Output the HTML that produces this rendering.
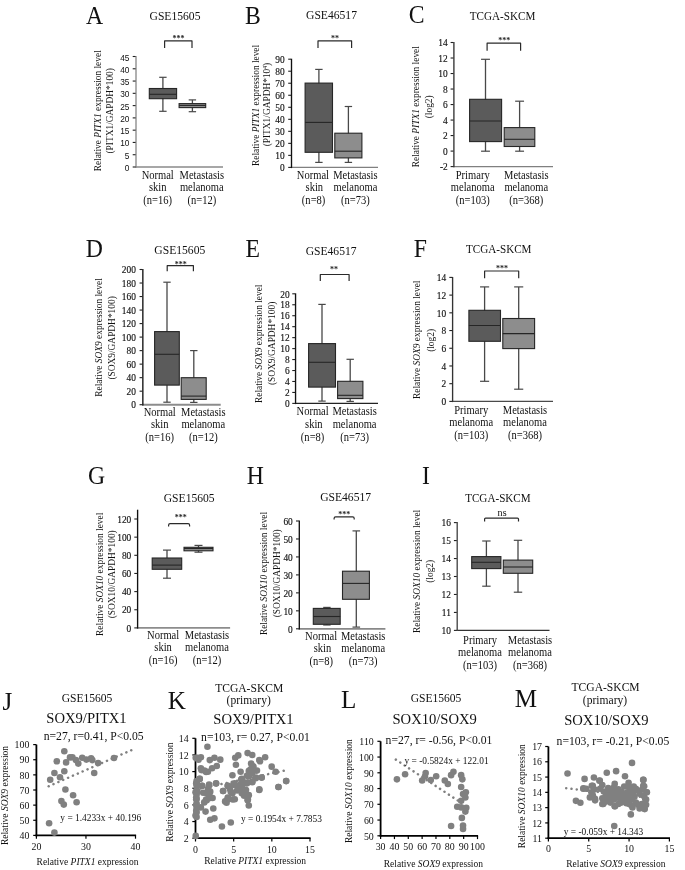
<!DOCTYPE html>
<html><head><meta charset="utf-8"><title>Figure</title>
<style>html,body{margin:0;padding:0;background:#fff}svg{display:block;filter:grayscale(1)}</style>
</head><body>
<svg width="685" height="870" viewBox="0 0 685 870" font-family="'Liberation Serif',serif" fill="#111">
<rect width="685" height="870" fill="#fff"/>
<text transform="translate(94.5 23.8) scale(0.95 1)" font-size="25" text-anchor="middle">A</text>
<text transform="translate(175 19.6) scale(0.9 1)" font-size="12.9" text-anchor="middle">GSE15605</text>
<line x1="162.9" y1="77.3" x2="162.9" y2="111.3" stroke="#484848" stroke-width="1.3"/>
<line x1="159.2" y1="77.3" x2="166.6" y2="77.3" stroke="#484848" stroke-width="1.2"/>
<line x1="159.2" y1="111.3" x2="166.6" y2="111.3" stroke="#484848" stroke-width="1.2"/>
<rect x="149.3" y="88.5" width="27.3" height="10.2" fill="#5b5b5b" stroke="#262626" stroke-width="1.1"/>
<line x1="149.3" y1="94.3" x2="176.6" y2="94.3" stroke="#262626" stroke-width="1.1"/>
<line x1="192.4" y1="99.9" x2="192.4" y2="111.7" stroke="#484848" stroke-width="1.3"/>
<line x1="188.7" y1="99.9" x2="196.1" y2="99.9" stroke="#484848" stroke-width="1.2"/>
<line x1="188.7" y1="111.7" x2="196.1" y2="111.7" stroke="#484848" stroke-width="1.2"/>
<rect x="179.1" y="103.6" width="26.6" height="4" fill="#8d8d8d" stroke="#262626" stroke-width="1.1"/>
<line x1="179.1" y1="105.4" x2="205.7" y2="105.4" stroke="#262626" stroke-width="1.1"/>
<line x1="135.35" y1="167" x2="223" y2="167" stroke="#8a8a8a" stroke-width="1.4"/>
<line x1="136" y1="56" x2="136" y2="167.7" stroke="#8a8a8a" stroke-width="1.35"/>
<line x1="132.7" y1="167" x2="135.6" y2="167" stroke="#222" stroke-width="1.1"/>
<text transform="translate(129.5 171) scale(0.85 1)" font-size="9.8" text-anchor="end" font-family="'Liberation Sans',sans-serif">0</text>
<line x1="132.7" y1="154.72" x2="135.6" y2="154.72" stroke="#222" stroke-width="1.1"/>
<text transform="translate(129.5 158.72) scale(0.85 1)" font-size="9.8" text-anchor="end" font-family="'Liberation Sans',sans-serif">5</text>
<line x1="132.7" y1="142.44" x2="135.6" y2="142.44" stroke="#222" stroke-width="1.1"/>
<text transform="translate(129.5 146.44) scale(0.85 1)" font-size="9.8" text-anchor="end" font-family="'Liberation Sans',sans-serif">10</text>
<line x1="132.7" y1="130.17" x2="135.6" y2="130.17" stroke="#222" stroke-width="1.1"/>
<text transform="translate(129.5 134.17) scale(0.85 1)" font-size="9.8" text-anchor="end" font-family="'Liberation Sans',sans-serif">15</text>
<line x1="132.7" y1="117.89" x2="135.6" y2="117.89" stroke="#222" stroke-width="1.1"/>
<text transform="translate(129.5 121.89) scale(0.85 1)" font-size="9.8" text-anchor="end" font-family="'Liberation Sans',sans-serif">20</text>
<line x1="132.7" y1="105.61" x2="135.6" y2="105.61" stroke="#222" stroke-width="1.1"/>
<text transform="translate(129.5 109.61) scale(0.85 1)" font-size="9.8" text-anchor="end" font-family="'Liberation Sans',sans-serif">25</text>
<line x1="132.7" y1="93.33" x2="135.6" y2="93.33" stroke="#222" stroke-width="1.1"/>
<text transform="translate(129.5 97.33) scale(0.85 1)" font-size="9.8" text-anchor="end" font-family="'Liberation Sans',sans-serif">30</text>
<line x1="132.7" y1="81.06" x2="135.6" y2="81.06" stroke="#222" stroke-width="1.1"/>
<text transform="translate(129.5 85.06) scale(0.85 1)" font-size="9.8" text-anchor="end" font-family="'Liberation Sans',sans-serif">35</text>
<line x1="132.7" y1="68.78" x2="135.6" y2="68.78" stroke="#222" stroke-width="1.1"/>
<text transform="translate(129.5 72.78) scale(0.85 1)" font-size="9.8" text-anchor="end" font-family="'Liberation Sans',sans-serif">40</text>
<line x1="132.7" y1="56.5" x2="135.6" y2="56.5" stroke="#222" stroke-width="1.1"/>
<text transform="translate(129.5 60.5) scale(0.85 1)" font-size="9.8" text-anchor="end" font-family="'Liberation Sans',sans-serif">45</text>
<text transform="translate(100.6 110.8) rotate(-90)" font-size="9.4" text-anchor="middle">Relative <tspan font-style="italic">PITX1</tspan> expression level</text>
<text transform="translate(112.8 110.8) rotate(-90)" font-size="9.4" text-anchor="middle">(PITX1/GAPDH*100)</text>
<path d="M164.6 47.9V40.91Q164.6 40.9 164.61 40.9H191.99Q192 40.9 192 40.91V47.9" fill="none" stroke="#2a2a2a" stroke-width="1.2"/>
<text x="178.6" y="41" font-size="8" text-anchor="middle" font-weight="bold" fill="#222">***</text>
<text transform="translate(157.7 178.7) scale(0.9 1)" font-size="11.7" text-anchor="middle">Normal</text>
<text transform="translate(157.7 191) scale(0.9 1)" font-size="11.7" text-anchor="middle">skin</text>
<text transform="translate(157.7 203.9) scale(0.9 1)" font-size="11.7" text-anchor="middle">(n=16)</text>
<text transform="translate(201.8 178.7) scale(0.9 1)" font-size="11.7" text-anchor="middle">Metastasis</text>
<text transform="translate(201.8 191) scale(0.9 1)" font-size="11.7" text-anchor="middle">melanoma</text>
<text transform="translate(201.8 203.9) scale(0.9 1)" font-size="11.7" text-anchor="middle">(n=12)</text>
<text transform="translate(252.8 23.5) scale(0.95 1)" font-size="25" text-anchor="middle">B</text>
<text transform="translate(331.5 18.8) scale(0.9 1)" font-size="12.9" text-anchor="middle">GSE46517</text>
<line x1="318.9" y1="69.4" x2="318.9" y2="162.4" stroke="#484848" stroke-width="1.3"/>
<line x1="315.2" y1="69.4" x2="322.6" y2="69.4" stroke="#484848" stroke-width="1.2"/>
<line x1="315.2" y1="162.4" x2="322.6" y2="162.4" stroke="#484848" stroke-width="1.2"/>
<rect x="305.1" y="83.1" width="27.4" height="69.2" fill="#5b5b5b" stroke="#262626" stroke-width="1.1"/>
<line x1="305.1" y1="122.4" x2="332.5" y2="122.4" stroke="#262626" stroke-width="1.1"/>
<line x1="348.4" y1="106.5" x2="348.4" y2="162.4" stroke="#484848" stroke-width="1.3"/>
<line x1="344.7" y1="106.5" x2="352.1" y2="106.5" stroke="#484848" stroke-width="1.2"/>
<line x1="344.7" y1="162.4" x2="352.1" y2="162.4" stroke="#484848" stroke-width="1.2"/>
<rect x="334.8" y="133.2" width="27.1" height="24.7" fill="#8d8d8d" stroke="#262626" stroke-width="1.1"/>
<line x1="334.8" y1="151.2" x2="361.9" y2="151.2" stroke="#262626" stroke-width="1.1"/>
<line x1="290.85" y1="167.4" x2="378" y2="167.4" stroke="#808080" stroke-width="1.4"/>
<line x1="291.5" y1="58.7" x2="291.5" y2="168.1" stroke="#111" stroke-width="1.35"/>
<line x1="288.2" y1="167.4" x2="291.1" y2="167.4" stroke="#222" stroke-width="1.1"/>
<text transform="translate(284.7 171.1) scale(0.95 1)" font-size="9.9" text-anchor="end" stroke="#111" stroke-width="0.15">0</text>
<line x1="288.2" y1="155.38" x2="291.1" y2="155.38" stroke="#222" stroke-width="1.1"/>
<text transform="translate(284.7 159.08) scale(0.95 1)" font-size="9.9" text-anchor="end" stroke="#111" stroke-width="0.15">10</text>
<line x1="288.2" y1="143.36" x2="291.1" y2="143.36" stroke="#222" stroke-width="1.1"/>
<text transform="translate(284.7 147.06) scale(0.95 1)" font-size="9.9" text-anchor="end" stroke="#111" stroke-width="0.15">20</text>
<line x1="288.2" y1="131.33" x2="291.1" y2="131.33" stroke="#222" stroke-width="1.1"/>
<text transform="translate(284.7 135.03) scale(0.95 1)" font-size="9.9" text-anchor="end" stroke="#111" stroke-width="0.15">30</text>
<line x1="288.2" y1="119.31" x2="291.1" y2="119.31" stroke="#222" stroke-width="1.1"/>
<text transform="translate(284.7 123.01) scale(0.95 1)" font-size="9.9" text-anchor="end" stroke="#111" stroke-width="0.15">40</text>
<line x1="288.2" y1="107.29" x2="291.1" y2="107.29" stroke="#222" stroke-width="1.1"/>
<text transform="translate(284.7 110.99) scale(0.95 1)" font-size="9.9" text-anchor="end" stroke="#111" stroke-width="0.15">50</text>
<line x1="288.2" y1="95.27" x2="291.1" y2="95.27" stroke="#222" stroke-width="1.1"/>
<text transform="translate(284.7 98.97) scale(0.95 1)" font-size="9.9" text-anchor="end" stroke="#111" stroke-width="0.15">60</text>
<line x1="288.2" y1="83.24" x2="291.1" y2="83.24" stroke="#222" stroke-width="1.1"/>
<text transform="translate(284.7 86.94) scale(0.95 1)" font-size="9.9" text-anchor="end" stroke="#111" stroke-width="0.15">70</text>
<line x1="288.2" y1="71.22" x2="291.1" y2="71.22" stroke="#222" stroke-width="1.1"/>
<text transform="translate(284.7 74.92) scale(0.95 1)" font-size="9.9" text-anchor="end" stroke="#111" stroke-width="0.15">80</text>
<line x1="288.2" y1="59.2" x2="291.1" y2="59.2" stroke="#222" stroke-width="1.1"/>
<text transform="translate(284.7 62.9) scale(0.95 1)" font-size="9.9" text-anchor="end" stroke="#111" stroke-width="0.15">90</text>
<text transform="translate(259.2 105.4) rotate(-90)" font-size="9.4" text-anchor="middle">Relative <tspan font-style="italic">PITX1</tspan> expression level</text>
<text transform="translate(270 104.6) rotate(-90)" font-size="9.4" text-anchor="middle">(PITX1/GAPDH*10<tspan font-size="5.5" dy="-3.2">4</tspan><tspan dy="3.2">)</tspan></text>
<path d="M318 47.9V40.91Q318 40.9 318.01 40.9H351.59Q351.6 40.9 351.6 40.91V47.9" fill="none" stroke="#2a2a2a" stroke-width="1.2"/>
<text x="335" y="41" font-size="8" text-anchor="middle" font-weight="bold" fill="#222">**</text>
<text transform="translate(312.9 178.8) scale(0.9 1)" font-size="11.7" text-anchor="middle">Normal</text>
<text transform="translate(314.3 191) scale(0.9 1)" font-size="11.7" text-anchor="middle">skin</text>
<text transform="translate(313.6 203.8) scale(0.9 1)" font-size="11.7" text-anchor="middle">(n=8)</text>
<text transform="translate(355.4 178.8) scale(0.9 1)" font-size="11.7" text-anchor="middle">Metastasis</text>
<text transform="translate(355.4 191) scale(0.9 1)" font-size="11.7" text-anchor="middle">melanoma</text>
<text transform="translate(355.4 203.8) scale(0.9 1)" font-size="11.7" text-anchor="middle">(n=73)</text>
<text transform="translate(416.7 23) scale(0.95 1)" font-size="25" text-anchor="middle">C</text>
<text transform="translate(502.5 20.3) scale(0.9 1)" font-size="12.38" text-anchor="middle">TCGA-SKCM</text>
<line x1="485.5" y1="59.3" x2="485.5" y2="151.2" stroke="#484848" stroke-width="1.3"/>
<line x1="481.05" y1="59.3" x2="489.95" y2="59.3" stroke="#484848" stroke-width="1.2"/>
<line x1="481.05" y1="151.2" x2="489.95" y2="151.2" stroke="#484848" stroke-width="1.2"/>
<rect x="469.6" y="99.3" width="32" height="42.3" fill="#5b5b5b" stroke="#262626" stroke-width="1.1"/>
<line x1="469.6" y1="121" x2="501.6" y2="121" stroke="#262626" stroke-width="1.1"/>
<line x1="519.6" y1="101.2" x2="519.6" y2="151.2" stroke="#484848" stroke-width="1.3"/>
<line x1="515.15" y1="101.2" x2="524.05" y2="101.2" stroke="#484848" stroke-width="1.2"/>
<line x1="515.15" y1="151.2" x2="524.05" y2="151.2" stroke="#484848" stroke-width="1.2"/>
<rect x="504.2" y="127.6" width="30.6" height="18.9" fill="#8d8d8d" stroke="#262626" stroke-width="1.1"/>
<line x1="504.2" y1="139.3" x2="534.8" y2="139.3" stroke="#262626" stroke-width="1.1"/>
<line x1="453.25" y1="166.6" x2="553" y2="166.6" stroke="#808080" stroke-width="1.4"/>
<line x1="453.9" y1="42" x2="453.9" y2="167.3" stroke="#333" stroke-width="1.35"/>
<line x1="450.6" y1="166.6" x2="453.5" y2="166.6" stroke="#222" stroke-width="1.1"/>
<text transform="translate(447.7 170.3) scale(0.95 1)" font-size="9.9" text-anchor="end" stroke="#111" stroke-width="0.15">-2</text>
<line x1="450.6" y1="151.09" x2="453.5" y2="151.09" stroke="#222" stroke-width="1.1"/>
<text transform="translate(447.7 154.79) scale(0.95 1)" font-size="9.9" text-anchor="end" stroke="#111" stroke-width="0.15">0</text>
<line x1="450.6" y1="135.57" x2="453.5" y2="135.57" stroke="#222" stroke-width="1.1"/>
<text transform="translate(447.7 139.27) scale(0.95 1)" font-size="9.9" text-anchor="end" stroke="#111" stroke-width="0.15">2</text>
<line x1="450.6" y1="120.06" x2="453.5" y2="120.06" stroke="#222" stroke-width="1.1"/>
<text transform="translate(447.7 123.76) scale(0.95 1)" font-size="9.9" text-anchor="end" stroke="#111" stroke-width="0.15">4</text>
<line x1="450.6" y1="104.55" x2="453.5" y2="104.55" stroke="#222" stroke-width="1.1"/>
<text transform="translate(447.7 108.25) scale(0.95 1)" font-size="9.9" text-anchor="end" stroke="#111" stroke-width="0.15">6</text>
<line x1="450.6" y1="89.04" x2="453.5" y2="89.04" stroke="#222" stroke-width="1.1"/>
<text transform="translate(447.7 92.74) scale(0.95 1)" font-size="9.9" text-anchor="end" stroke="#111" stroke-width="0.15">8</text>
<line x1="450.6" y1="73.53" x2="453.5" y2="73.53" stroke="#222" stroke-width="1.1"/>
<text transform="translate(447.7 77.23) scale(0.95 1)" font-size="9.9" text-anchor="end" stroke="#111" stroke-width="0.15">10</text>
<line x1="450.6" y1="58.01" x2="453.5" y2="58.01" stroke="#222" stroke-width="1.1"/>
<text transform="translate(447.7 61.71) scale(0.95 1)" font-size="9.9" text-anchor="end" stroke="#111" stroke-width="0.15">12</text>
<line x1="450.6" y1="42.5" x2="453.5" y2="42.5" stroke="#222" stroke-width="1.1"/>
<text transform="translate(447.7 46.2) scale(0.95 1)" font-size="9.9" text-anchor="end" stroke="#111" stroke-width="0.15">14</text>
<text transform="translate(418.8 106.7) rotate(-90)" font-size="9.4" text-anchor="middle">Relative <tspan font-style="italic">PITX1</tspan> expression level</text>
<text transform="translate(431.6 106.8) rotate(-90)" font-size="9.4" text-anchor="middle">(log2)</text>
<path d="M487.1 50.8V43.21Q487.1 43.2 487.11 43.2H520.59Q520.6 43.2 520.6 43.21V50.8" fill="none" stroke="#2a2a2a" stroke-width="1.2"/>
<text x="504.2" y="42.9" font-size="8" text-anchor="middle" font-weight="bold" fill="#222">***</text>
<text transform="translate(472.7 178.6) scale(0.9 1)" font-size="11.7" text-anchor="middle">Primary</text>
<text transform="translate(472.7 191) scale(0.9 1)" font-size="11.7" text-anchor="middle">melanoma</text>
<text transform="translate(472.7 203.8) scale(0.9 1)" font-size="11.7" text-anchor="middle">(n=103)</text>
<text transform="translate(526.3 178.6) scale(0.9 1)" font-size="11.7" text-anchor="middle">Metastasis</text>
<text transform="translate(526.3 191) scale(0.9 1)" font-size="11.7" text-anchor="middle">melanoma</text>
<text transform="translate(526.3 203.8) scale(0.9 1)" font-size="11.7" text-anchor="middle">(n=368)</text>
<text transform="translate(94.3 257.1) scale(0.95 1)" font-size="25" text-anchor="middle">D</text>
<text transform="translate(179.8 253.9) scale(0.9 1)" font-size="12.9" text-anchor="middle">GSE15605</text>
<line x1="167" y1="282.2" x2="167" y2="402.2" stroke="#484848" stroke-width="1.3"/>
<line x1="163.3" y1="282.2" x2="170.7" y2="282.2" stroke="#484848" stroke-width="1.2"/>
<line x1="163.3" y1="402.2" x2="170.7" y2="402.2" stroke="#484848" stroke-width="1.2"/>
<rect x="154.6" y="331.6" width="24.7" height="53.5" fill="#5b5b5b" stroke="#262626" stroke-width="1.1"/>
<line x1="154.6" y1="354.3" x2="179.3" y2="354.3" stroke="#262626" stroke-width="1.1"/>
<line x1="193.8" y1="350.6" x2="193.8" y2="402.4" stroke="#484848" stroke-width="1.3"/>
<line x1="190.1" y1="350.6" x2="197.5" y2="350.6" stroke="#484848" stroke-width="1.2"/>
<line x1="190.1" y1="402.4" x2="197.5" y2="402.4" stroke="#484848" stroke-width="1.2"/>
<rect x="181.2" y="377.7" width="25" height="21.7" fill="#8d8d8d" stroke="#262626" stroke-width="1.1"/>
<line x1="181.2" y1="396.1" x2="206.2" y2="396.1" stroke="#262626" stroke-width="1.1"/>
<line x1="142.2" y1="404.7" x2="220.7" y2="404.7" stroke="#8c8c8c" stroke-width="1.9"/>
<line x1="142.85" y1="269" x2="142.85" y2="405.4" stroke="#111" stroke-width="1.35"/>
<line x1="139.55" y1="404.7" x2="142.45" y2="404.7" stroke="#222" stroke-width="1.1"/>
<text transform="translate(135.9 408.4) scale(0.95 1)" font-size="9.9" text-anchor="end" stroke="#111" stroke-width="0.15">0</text>
<line x1="139.55" y1="391.18" x2="142.45" y2="391.18" stroke="#222" stroke-width="1.1"/>
<text transform="translate(135.9 394.88) scale(0.95 1)" font-size="9.9" text-anchor="end" stroke="#111" stroke-width="0.15">20</text>
<line x1="139.55" y1="377.66" x2="142.45" y2="377.66" stroke="#222" stroke-width="1.1"/>
<text transform="translate(135.9 381.36) scale(0.95 1)" font-size="9.9" text-anchor="end" stroke="#111" stroke-width="0.15">40</text>
<line x1="139.55" y1="364.14" x2="142.45" y2="364.14" stroke="#222" stroke-width="1.1"/>
<text transform="translate(135.9 367.84) scale(0.95 1)" font-size="9.9" text-anchor="end" stroke="#111" stroke-width="0.15">60</text>
<line x1="139.55" y1="350.62" x2="142.45" y2="350.62" stroke="#222" stroke-width="1.1"/>
<text transform="translate(135.9 354.32) scale(0.95 1)" font-size="9.9" text-anchor="end" stroke="#111" stroke-width="0.15">80</text>
<line x1="139.55" y1="337.1" x2="142.45" y2="337.1" stroke="#222" stroke-width="1.1"/>
<text transform="translate(135.9 340.8) scale(0.95 1)" font-size="9.9" text-anchor="end" stroke="#111" stroke-width="0.15">100</text>
<line x1="139.55" y1="323.58" x2="142.45" y2="323.58" stroke="#222" stroke-width="1.1"/>
<text transform="translate(135.9 327.28) scale(0.95 1)" font-size="9.9" text-anchor="end" stroke="#111" stroke-width="0.15">120</text>
<line x1="139.55" y1="310.06" x2="142.45" y2="310.06" stroke="#222" stroke-width="1.1"/>
<text transform="translate(135.9 313.76) scale(0.95 1)" font-size="9.9" text-anchor="end" stroke="#111" stroke-width="0.15">140</text>
<line x1="139.55" y1="296.54" x2="142.45" y2="296.54" stroke="#222" stroke-width="1.1"/>
<text transform="translate(135.9 300.24) scale(0.95 1)" font-size="9.9" text-anchor="end" stroke="#111" stroke-width="0.15">160</text>
<line x1="139.55" y1="283.02" x2="142.45" y2="283.02" stroke="#222" stroke-width="1.1"/>
<text transform="translate(135.9 286.72) scale(0.95 1)" font-size="9.9" text-anchor="end" stroke="#111" stroke-width="0.15">180</text>
<line x1="139.55" y1="269.5" x2="142.45" y2="269.5" stroke="#222" stroke-width="1.1"/>
<text transform="translate(135.9 273.2) scale(0.95 1)" font-size="9.9" text-anchor="end" stroke="#111" stroke-width="0.15">200</text>
<text transform="translate(102.3 337.5) rotate(-90)" font-size="9.4" text-anchor="middle">Relative <tspan font-style="italic">SOX9</tspan> expression level</text>
<text transform="translate(115.1 337.9) rotate(-90)" font-size="9.4" text-anchor="middle">(SOX9/GAPDH*100)</text>
<path d="M167.2 271.3V265.71Q167.2 265.7 167.21 265.7H193.39Q193.4 265.7 193.4 265.71V271.3" fill="none" stroke="#2a2a2a" stroke-width="1.2"/>
<text x="180.7" y="266.7" font-size="8" text-anchor="middle" font-weight="bold" fill="#222">***</text>
<text transform="translate(159.7 415.5) scale(0.9 1)" font-size="11.7" text-anchor="middle">Normal</text>
<text transform="translate(159.7 427.9) scale(0.9 1)" font-size="11.7" text-anchor="middle">skin</text>
<text transform="translate(159.7 440.5) scale(0.9 1)" font-size="11.7" text-anchor="middle">(n=16)</text>
<text transform="translate(203.3 415.5) scale(0.9 1)" font-size="11.7" text-anchor="middle">Metastasis</text>
<text transform="translate(203.3 427.9) scale(0.9 1)" font-size="11.7" text-anchor="middle">melanoma</text>
<text transform="translate(203.3 440.5) scale(0.9 1)" font-size="11.7" text-anchor="middle">(n=12)</text>
<text transform="translate(252.8 257.1) scale(0.95 1)" font-size="25" text-anchor="middle">E</text>
<text transform="translate(331.1 254.6) scale(0.9 1)" font-size="12.9" text-anchor="middle">GSE46517</text>
<line x1="322" y1="304.4" x2="322" y2="401.1" stroke="#484848" stroke-width="1.3"/>
<line x1="318.3" y1="304.4" x2="325.7" y2="304.4" stroke="#484848" stroke-width="1.2"/>
<line x1="318.3" y1="401.1" x2="325.7" y2="401.1" stroke="#484848" stroke-width="1.2"/>
<rect x="308.6" y="343.6" width="26.9" height="43.5" fill="#5b5b5b" stroke="#262626" stroke-width="1.1"/>
<line x1="308.6" y1="362.3" x2="335.5" y2="362.3" stroke="#262626" stroke-width="1.1"/>
<line x1="350.2" y1="359.3" x2="350.2" y2="401.4" stroke="#484848" stroke-width="1.3"/>
<line x1="346.5" y1="359.3" x2="353.9" y2="359.3" stroke="#484848" stroke-width="1.2"/>
<line x1="346.5" y1="401.4" x2="353.9" y2="401.4" stroke="#484848" stroke-width="1.2"/>
<rect x="337.6" y="381.3" width="25.3" height="17.3" fill="#8d8d8d" stroke="#262626" stroke-width="1.1"/>
<line x1="337.6" y1="395.3" x2="362.9" y2="395.3" stroke="#262626" stroke-width="1.1"/>
<line x1="294.9" y1="403.4" x2="378" y2="403.4" stroke="#222" stroke-width="1.4"/>
<line x1="295.55" y1="293.3" x2="295.55" y2="404.1" stroke="#111" stroke-width="1.35"/>
<line x1="292.25" y1="403.4" x2="295.15" y2="403.4" stroke="#222" stroke-width="1.1"/>
<text transform="translate(289.6 407.1) scale(0.95 1)" font-size="9.9" text-anchor="end" stroke="#111" stroke-width="0.15">0</text>
<line x1="292.25" y1="392.44" x2="295.15" y2="392.44" stroke="#222" stroke-width="1.1"/>
<text transform="translate(289.6 396.14) scale(0.95 1)" font-size="9.9" text-anchor="end" stroke="#111" stroke-width="0.15">2</text>
<line x1="292.25" y1="381.48" x2="295.15" y2="381.48" stroke="#222" stroke-width="1.1"/>
<text transform="translate(289.6 385.18) scale(0.95 1)" font-size="9.9" text-anchor="end" stroke="#111" stroke-width="0.15">4</text>
<line x1="292.25" y1="370.52" x2="295.15" y2="370.52" stroke="#222" stroke-width="1.1"/>
<text transform="translate(289.6 374.22) scale(0.95 1)" font-size="9.9" text-anchor="end" stroke="#111" stroke-width="0.15">6</text>
<line x1="292.25" y1="359.56" x2="295.15" y2="359.56" stroke="#222" stroke-width="1.1"/>
<text transform="translate(289.6 363.26) scale(0.95 1)" font-size="9.9" text-anchor="end" stroke="#111" stroke-width="0.15">8</text>
<line x1="292.25" y1="348.6" x2="295.15" y2="348.6" stroke="#222" stroke-width="1.1"/>
<text transform="translate(289.6 352.3) scale(0.95 1)" font-size="9.9" text-anchor="end" stroke="#111" stroke-width="0.15">10</text>
<line x1="292.25" y1="337.64" x2="295.15" y2="337.64" stroke="#222" stroke-width="1.1"/>
<text transform="translate(289.6 341.34) scale(0.95 1)" font-size="9.9" text-anchor="end" stroke="#111" stroke-width="0.15">12</text>
<line x1="292.25" y1="326.68" x2="295.15" y2="326.68" stroke="#222" stroke-width="1.1"/>
<text transform="translate(289.6 330.38) scale(0.95 1)" font-size="9.9" text-anchor="end" stroke="#111" stroke-width="0.15">14</text>
<line x1="292.25" y1="315.72" x2="295.15" y2="315.72" stroke="#222" stroke-width="1.1"/>
<text transform="translate(289.6 319.42) scale(0.95 1)" font-size="9.9" text-anchor="end" stroke="#111" stroke-width="0.15">16</text>
<line x1="292.25" y1="304.76" x2="295.15" y2="304.76" stroke="#222" stroke-width="1.1"/>
<text transform="translate(289.6 308.46) scale(0.95 1)" font-size="9.9" text-anchor="end" stroke="#111" stroke-width="0.15">18</text>
<line x1="292.25" y1="293.8" x2="295.15" y2="293.8" stroke="#222" stroke-width="1.1"/>
<text transform="translate(289.6 297.5) scale(0.95 1)" font-size="9.9" text-anchor="end" stroke="#111" stroke-width="0.15">20</text>
<text transform="translate(261.8 343.8) rotate(-90)" font-size="9.4" text-anchor="middle">Relative <tspan font-style="italic">SOX9</tspan> expression level</text>
<text transform="translate(274.5 343.4) rotate(-90)" font-size="9.4" text-anchor="middle">(SOX9/GAPDH*100)</text>
<path d="M320.3 281.1V274.51Q320.3 274.5 320.31 274.5H349.09Q349.1 274.5 349.1 274.51V281.1" fill="none" stroke="#2a2a2a" stroke-width="1.2"/>
<text x="334.1" y="271.8" font-size="8" text-anchor="middle" font-weight="bold" fill="#222">**</text>
<text transform="translate(312.6 415.4) scale(0.9 1)" font-size="11.7" text-anchor="middle">Normal</text>
<text transform="translate(313.8 428) scale(0.9 1)" font-size="11.7" text-anchor="middle">skin</text>
<text transform="translate(312.6 440.6) scale(0.9 1)" font-size="11.7" text-anchor="middle">(n=8)</text>
<text transform="translate(354.6 415.4) scale(0.9 1)" font-size="11.7" text-anchor="middle">Metastasis</text>
<text transform="translate(354.6 428) scale(0.9 1)" font-size="11.7" text-anchor="middle">melanoma</text>
<text transform="translate(354.6 440.6) scale(0.9 1)" font-size="11.7" text-anchor="middle">(n=73)</text>
<text transform="translate(420.3 257.1) scale(0.95 1)" font-size="25" text-anchor="middle">F</text>
<text transform="translate(498.7 253.4) scale(0.9 1)" font-size="12.38" text-anchor="middle">TCGA-SKCM</text>
<line x1="484.6" y1="286.9" x2="484.6" y2="381.3" stroke="#484848" stroke-width="1.3"/>
<line x1="480.05" y1="286.9" x2="489.15" y2="286.9" stroke="#484848" stroke-width="1.2"/>
<line x1="480.05" y1="381.3" x2="489.15" y2="381.3" stroke="#484848" stroke-width="1.2"/>
<rect x="468.9" y="310.3" width="31.6" height="31" fill="#5b5b5b" stroke="#262626" stroke-width="1.1"/>
<line x1="468.9" y1="325.5" x2="500.5" y2="325.5" stroke="#262626" stroke-width="1.1"/>
<line x1="518.7" y1="286.9" x2="518.7" y2="389.2" stroke="#484848" stroke-width="1.3"/>
<line x1="514.15" y1="286.9" x2="523.25" y2="286.9" stroke="#484848" stroke-width="1.2"/>
<line x1="514.15" y1="389.2" x2="523.25" y2="389.2" stroke="#484848" stroke-width="1.2"/>
<rect x="502.8" y="318.5" width="31.8" height="30.1" fill="#8d8d8d" stroke="#262626" stroke-width="1.1"/>
<line x1="502.8" y1="333.6" x2="534.6" y2="333.6" stroke="#262626" stroke-width="1.1"/>
<line x1="451.95" y1="401.4" x2="553" y2="401.4" stroke="#4a4a4a" stroke-width="1.4"/>
<line x1="452.6" y1="276.9" x2="452.6" y2="402.1" stroke="#333" stroke-width="1.35"/>
<line x1="449.3" y1="401.4" x2="452.2" y2="401.4" stroke="#222" stroke-width="1.1"/>
<text transform="translate(446.2 405.1) scale(0.95 1)" font-size="9.9" text-anchor="end" stroke="#111" stroke-width="0.15">0</text>
<line x1="449.3" y1="383.69" x2="452.2" y2="383.69" stroke="#222" stroke-width="1.1"/>
<text transform="translate(446.2 387.39) scale(0.95 1)" font-size="9.9" text-anchor="end" stroke="#111" stroke-width="0.15">2</text>
<line x1="449.3" y1="365.97" x2="452.2" y2="365.97" stroke="#222" stroke-width="1.1"/>
<text transform="translate(446.2 369.67) scale(0.95 1)" font-size="9.9" text-anchor="end" stroke="#111" stroke-width="0.15">4</text>
<line x1="449.3" y1="348.26" x2="452.2" y2="348.26" stroke="#222" stroke-width="1.1"/>
<text transform="translate(446.2 351.96) scale(0.95 1)" font-size="9.9" text-anchor="end" stroke="#111" stroke-width="0.15">6</text>
<line x1="449.3" y1="330.54" x2="452.2" y2="330.54" stroke="#222" stroke-width="1.1"/>
<text transform="translate(446.2 334.24) scale(0.95 1)" font-size="9.9" text-anchor="end" stroke="#111" stroke-width="0.15">8</text>
<line x1="449.3" y1="312.83" x2="452.2" y2="312.83" stroke="#222" stroke-width="1.1"/>
<text transform="translate(446.2 316.53) scale(0.95 1)" font-size="9.9" text-anchor="end" stroke="#111" stroke-width="0.15">10</text>
<line x1="449.3" y1="295.11" x2="452.2" y2="295.11" stroke="#222" stroke-width="1.1"/>
<text transform="translate(446.2 298.81) scale(0.95 1)" font-size="9.9" text-anchor="end" stroke="#111" stroke-width="0.15">12</text>
<line x1="449.3" y1="277.4" x2="452.2" y2="277.4" stroke="#222" stroke-width="1.1"/>
<text transform="translate(446.2 281.1) scale(0.95 1)" font-size="9.9" text-anchor="end" stroke="#111" stroke-width="0.15">14</text>
<text transform="translate(420.4 339.8) rotate(-90)" font-size="9.4" text-anchor="middle">Relative <tspan font-style="italic">SOX9</tspan> expression level</text>
<text transform="translate(433.7 340.4) rotate(-90)" font-size="9.4" text-anchor="middle">(log2)</text>
<path d="M484.6 278.3V271.01Q484.6 271 484.61 271H518.69Q518.7 271 518.7 271.01V278.3" fill="none" stroke="#2a2a2a" stroke-width="1.2"/>
<text x="501.9" y="271.3" font-size="8" text-anchor="middle" font-weight="bold" fill="#222">***</text>
<text transform="translate(471.2 413.9) scale(0.9 1)" font-size="11.7" text-anchor="middle">Primary</text>
<text transform="translate(471.2 426.3) scale(0.9 1)" font-size="11.7" text-anchor="middle">melanoma</text>
<text transform="translate(471.2 439) scale(0.9 1)" font-size="11.7" text-anchor="middle">(n=103)</text>
<text transform="translate(525 413.9) scale(0.9 1)" font-size="11.7" text-anchor="middle">Metastasis</text>
<text transform="translate(525 426.3) scale(0.9 1)" font-size="11.7" text-anchor="middle">melanoma</text>
<text transform="translate(525 439) scale(0.9 1)" font-size="11.7" text-anchor="middle">(n=368)</text>
<text transform="translate(96.5 483.6) scale(0.95 1)" font-size="25" text-anchor="middle">G</text>
<text transform="translate(189.2 502.1) scale(0.9 1)" font-size="12.9" text-anchor="middle">GSE15605</text>
<line x1="167" y1="550.1" x2="167" y2="578.2" stroke="#484848" stroke-width="1.3"/>
<line x1="163" y1="550.1" x2="171" y2="550.1" stroke="#484848" stroke-width="1.2"/>
<line x1="163" y1="578.2" x2="171" y2="578.2" stroke="#484848" stroke-width="1.2"/>
<rect x="152.2" y="558" width="29.5" height="11.3" fill="#5b5b5b" stroke="#262626" stroke-width="1.1"/>
<line x1="152.2" y1="565.1" x2="181.7" y2="565.1" stroke="#262626" stroke-width="1.1"/>
<line x1="198.5" y1="545.4" x2="198.5" y2="552.2" stroke="#484848" stroke-width="1.3"/>
<line x1="194.5" y1="545.4" x2="202.5" y2="545.4" stroke="#484848" stroke-width="1.2"/>
<line x1="194.5" y1="552.2" x2="202.5" y2="552.2" stroke="#484848" stroke-width="1.2"/>
<rect x="184" y="547.3" width="29" height="3.5" fill="#8d8d8d" stroke="#262626" stroke-width="1.1"/>
<line x1="184" y1="548.5" x2="213" y2="548.5" stroke="#262626" stroke-width="1.1"/>
<line x1="136.95" y1="627.9" x2="230.1" y2="627.9" stroke="#8c8c8c" stroke-width="1.9"/>
<line x1="137.6" y1="509.7" x2="137.6" y2="628.6" stroke="#111" stroke-width="1.35"/>
<line x1="134.3" y1="627.9" x2="137.2" y2="627.9" stroke="#222" stroke-width="1.1"/>
<text transform="translate(131.3 631.6) scale(0.95 1)" font-size="9.9" text-anchor="end" stroke="#111" stroke-width="0.15">0</text>
<line x1="134.3" y1="609.75" x2="137.2" y2="609.75" stroke="#222" stroke-width="1.1"/>
<text transform="translate(131.3 613.45) scale(0.95 1)" font-size="9.9" text-anchor="end" stroke="#111" stroke-width="0.15">20</text>
<line x1="134.3" y1="591.6" x2="137.2" y2="591.6" stroke="#222" stroke-width="1.1"/>
<text transform="translate(131.3 595.3) scale(0.95 1)" font-size="9.9" text-anchor="end" stroke="#111" stroke-width="0.15">40</text>
<line x1="134.3" y1="573.45" x2="137.2" y2="573.45" stroke="#222" stroke-width="1.1"/>
<text transform="translate(131.3 577.15) scale(0.95 1)" font-size="9.9" text-anchor="end" stroke="#111" stroke-width="0.15">60</text>
<line x1="134.3" y1="555.3" x2="137.2" y2="555.3" stroke="#222" stroke-width="1.1"/>
<text transform="translate(131.3 559) scale(0.95 1)" font-size="9.9" text-anchor="end" stroke="#111" stroke-width="0.15">80</text>
<line x1="134.3" y1="537.15" x2="137.2" y2="537.15" stroke="#222" stroke-width="1.1"/>
<text transform="translate(131.3 540.85) scale(0.95 1)" font-size="9.9" text-anchor="end" stroke="#111" stroke-width="0.15">100</text>
<line x1="134.3" y1="519" x2="137.2" y2="519" stroke="#222" stroke-width="1.1"/>
<text transform="translate(131.3 522.7) scale(0.95 1)" font-size="9.9" text-anchor="end" stroke="#111" stroke-width="0.15">120</text>
<text transform="translate(102.7 574.3) rotate(-90)" font-size="9.4" text-anchor="middle">Relative <tspan font-style="italic">SOX10</tspan> expression level</text>
<text transform="translate(114.9 574.3) rotate(-90)" font-size="9.4" text-anchor="middle">(SOX10/GAPDH*100)</text>
<path d="M168.6 526.6V525.2Q168.6 523.7 170.1 523.7H188.1Q189.6 523.7 189.6 525.2V526.6" fill="none" stroke="#2a2a2a" stroke-width="1.2"/>
<text x="180.7" y="520" font-size="8" text-anchor="middle" font-weight="bold" fill="#222">***</text>
<text transform="translate(163.1 639) scale(0.9 1)" font-size="11.7" text-anchor="middle">Normal</text>
<text transform="translate(163.1 651.4) scale(0.9 1)" font-size="11.7" text-anchor="middle">skin</text>
<text transform="translate(163.1 664.1) scale(0.9 1)" font-size="11.7" text-anchor="middle">(n=16)</text>
<text transform="translate(207 639) scale(0.9 1)" font-size="11.7" text-anchor="middle">Metastasis</text>
<text transform="translate(207 651.4) scale(0.9 1)" font-size="11.7" text-anchor="middle">melanoma</text>
<text transform="translate(207 664.1) scale(0.9 1)" font-size="11.7" text-anchor="middle">(n=12)</text>
<text transform="translate(255.4 484.1) scale(0.95 1)" font-size="25" text-anchor="middle">H</text>
<text transform="translate(345.6 501) scale(0.9 1)" font-size="12.9" text-anchor="middle">GSE46517</text>
<line x1="326.9" y1="607.4" x2="326.9" y2="625" stroke="#484848" stroke-width="1.3"/>
<line x1="323.2" y1="607.4" x2="330.6" y2="607.4" stroke="#484848" stroke-width="1.2"/>
<line x1="323.2" y1="625" x2="330.6" y2="625" stroke="#484848" stroke-width="1.2"/>
<rect x="313.3" y="608.4" width="26.9" height="15.9" fill="#5b5b5b" stroke="#262626" stroke-width="1.1"/>
<line x1="313.3" y1="616.5" x2="340.2" y2="616.5" stroke="#262626" stroke-width="1.1"/>
<line x1="356.3" y1="530.9" x2="356.3" y2="627.1" stroke="#484848" stroke-width="1.3"/>
<line x1="352.5" y1="530.9" x2="360.1" y2="530.9" stroke="#484848" stroke-width="1.2"/>
<line x1="352.5" y1="627.1" x2="360.1" y2="627.1" stroke="#484848" stroke-width="1.2"/>
<rect x="342.5" y="571.2" width="26.9" height="28.1" fill="#8d8d8d" stroke="#262626" stroke-width="1.1"/>
<line x1="342.5" y1="583.4" x2="369.4" y2="583.4" stroke="#262626" stroke-width="1.1"/>
<line x1="298.65" y1="628.8" x2="385.4" y2="628.8" stroke="#888" stroke-width="1.7"/>
<line x1="299.3" y1="520.5" x2="299.3" y2="629.5" stroke="#111" stroke-width="1.35"/>
<line x1="296" y1="628.8" x2="298.9" y2="628.8" stroke="#222" stroke-width="1.1"/>
<text transform="translate(292.8 632.5) scale(0.95 1)" font-size="9.9" text-anchor="end" stroke="#111" stroke-width="0.15">0</text>
<line x1="296" y1="610.83" x2="298.9" y2="610.83" stroke="#222" stroke-width="1.1"/>
<text transform="translate(292.8 614.53) scale(0.95 1)" font-size="9.9" text-anchor="end" stroke="#111" stroke-width="0.15">10</text>
<line x1="296" y1="592.87" x2="298.9" y2="592.87" stroke="#222" stroke-width="1.1"/>
<text transform="translate(292.8 596.57) scale(0.95 1)" font-size="9.9" text-anchor="end" stroke="#111" stroke-width="0.15">20</text>
<line x1="296" y1="574.9" x2="298.9" y2="574.9" stroke="#222" stroke-width="1.1"/>
<text transform="translate(292.8 578.6) scale(0.95 1)" font-size="9.9" text-anchor="end" stroke="#111" stroke-width="0.15">30</text>
<line x1="296" y1="556.93" x2="298.9" y2="556.93" stroke="#222" stroke-width="1.1"/>
<text transform="translate(292.8 560.63) scale(0.95 1)" font-size="9.9" text-anchor="end" stroke="#111" stroke-width="0.15">40</text>
<line x1="296" y1="538.97" x2="298.9" y2="538.97" stroke="#222" stroke-width="1.1"/>
<text transform="translate(292.8 542.67) scale(0.95 1)" font-size="9.9" text-anchor="end" stroke="#111" stroke-width="0.15">50</text>
<line x1="296" y1="521" x2="298.9" y2="521" stroke="#222" stroke-width="1.1"/>
<text transform="translate(292.8 524.7) scale(0.95 1)" font-size="9.9" text-anchor="end" stroke="#111" stroke-width="0.15">60</text>
<text transform="translate(266.7 573.5) rotate(-90)" font-size="9.4" text-anchor="middle">Relative <tspan font-style="italic">SOX10</tspan> expression level</text>
<text transform="translate(279.5 573.3) rotate(-90)" font-size="9.4" text-anchor="middle">(SOX10/GAPDH*100)</text>
<path d="M334.1 519.6V518.4Q334.1 516.9 335.6 516.9H352.7Q354.2 516.9 354.2 518.4V519.6" fill="none" stroke="#2a2a2a" stroke-width="1.2"/>
<text x="344.2" y="517.3" font-size="8" text-anchor="middle" font-weight="bold" fill="#222">***</text>
<text transform="translate(321.1 639.6) scale(0.9 1)" font-size="11.7" text-anchor="middle">Normal</text>
<text transform="translate(322.5 652) scale(0.9 1)" font-size="11.7" text-anchor="middle">skin</text>
<text transform="translate(321.3 664.8) scale(0.9 1)" font-size="11.7" text-anchor="middle">(n=8)</text>
<text transform="translate(363.2 639.6) scale(0.9 1)" font-size="11.7" text-anchor="middle">Metastasis</text>
<text transform="translate(363.2 652) scale(0.9 1)" font-size="11.7" text-anchor="middle">melanoma</text>
<text transform="translate(363.2 664.8) scale(0.9 1)" font-size="11.7" text-anchor="middle">(n=73)</text>
<text transform="translate(426 484.1) scale(0.95 1)" font-size="25" text-anchor="middle">I</text>
<text transform="translate(497.9 502.1) scale(0.9 1)" font-size="12.38" text-anchor="middle">TCGA-SKCM</text>
<line x1="486.4" y1="541" x2="486.4" y2="586.2" stroke="#484848" stroke-width="1.3"/>
<line x1="482.2" y1="541" x2="490.6" y2="541" stroke="#484848" stroke-width="1.2"/>
<line x1="482.2" y1="586.2" x2="490.6" y2="586.2" stroke="#484848" stroke-width="1.2"/>
<rect x="471.7" y="556.6" width="29.2" height="12" fill="#5b5b5b" stroke="#262626" stroke-width="1.1"/>
<line x1="471.7" y1="562.3" x2="500.9" y2="562.3" stroke="#262626" stroke-width="1.1"/>
<line x1="518" y1="540.3" x2="518" y2="592.2" stroke="#484848" stroke-width="1.3"/>
<line x1="513.8" y1="540.3" x2="522.2" y2="540.3" stroke="#484848" stroke-width="1.2"/>
<line x1="513.8" y1="592.2" x2="522.2" y2="592.2" stroke="#484848" stroke-width="1.2"/>
<rect x="503.3" y="560.1" width="29.4" height="13.2" fill="#8d8d8d" stroke="#262626" stroke-width="1.1"/>
<line x1="503.3" y1="567" x2="532.7" y2="567" stroke="#262626" stroke-width="1.1"/>
<line x1="456.55" y1="630.4" x2="549.5" y2="630.4" stroke="#333" stroke-width="1.4"/>
<line x1="457.2" y1="522.1" x2="457.2" y2="631.1" stroke="#444" stroke-width="1.35"/>
<line x1="453.9" y1="630.4" x2="456.8" y2="630.4" stroke="#222" stroke-width="1.1"/>
<text transform="translate(450.9 634.1) scale(0.95 1)" font-size="9.9" text-anchor="end" stroke="#111" stroke-width="0.15">10</text>
<line x1="453.9" y1="612.43" x2="456.8" y2="612.43" stroke="#222" stroke-width="1.1"/>
<text transform="translate(450.9 616.13) scale(0.95 1)" font-size="9.9" text-anchor="end" stroke="#111" stroke-width="0.15">11</text>
<line x1="453.9" y1="594.47" x2="456.8" y2="594.47" stroke="#222" stroke-width="1.1"/>
<text transform="translate(450.9 598.17) scale(0.95 1)" font-size="9.9" text-anchor="end" stroke="#111" stroke-width="0.15">12</text>
<line x1="453.9" y1="576.5" x2="456.8" y2="576.5" stroke="#222" stroke-width="1.1"/>
<text transform="translate(450.9 580.2) scale(0.95 1)" font-size="9.9" text-anchor="end" stroke="#111" stroke-width="0.15">13</text>
<line x1="453.9" y1="558.53" x2="456.8" y2="558.53" stroke="#222" stroke-width="1.1"/>
<text transform="translate(450.9 562.23) scale(0.95 1)" font-size="9.9" text-anchor="end" stroke="#111" stroke-width="0.15">14</text>
<line x1="453.9" y1="540.57" x2="456.8" y2="540.57" stroke="#222" stroke-width="1.1"/>
<text transform="translate(450.9 544.27) scale(0.95 1)" font-size="9.9" text-anchor="end" stroke="#111" stroke-width="0.15">15</text>
<line x1="453.9" y1="522.6" x2="456.8" y2="522.6" stroke="#222" stroke-width="1.1"/>
<text transform="translate(450.9 526.3) scale(0.95 1)" font-size="9.9" text-anchor="end" stroke="#111" stroke-width="0.15">16</text>
<text transform="translate(420 571.4) rotate(-90)" font-size="9.4" text-anchor="middle">Relative <tspan font-style="italic">SOX10</tspan> expression level</text>
<text transform="translate(433 571.3) rotate(-90)" font-size="9.4" text-anchor="middle">(log2)</text>
<path d="M484.6 521.6V519.1Q484.6 518.1 485.6 518.1H517.5Q518.5 518.1 518.5 519.1V521.6" fill="none" stroke="#2a2a2a" stroke-width="1.2"/>
<text transform="translate(502.1 515.7) scale(0.9 1)" font-size="11.2" text-anchor="middle">ns</text>
<text transform="translate(480 643.6) scale(0.9 1)" font-size="11.7" text-anchor="middle">Primary</text>
<text transform="translate(480 656) scale(0.9 1)" font-size="11.7" text-anchor="middle">melanoma</text>
<text transform="translate(480 668.7) scale(0.9 1)" font-size="11.7" text-anchor="middle">(n=103)</text>
<text transform="translate(530 643.6) scale(0.9 1)" font-size="11.7" text-anchor="middle">Metastasis</text>
<text transform="translate(530 656) scale(0.9 1)" font-size="11.7" text-anchor="middle">melanoma</text>
<text transform="translate(530 668.7) scale(0.9 1)" font-size="11.7" text-anchor="middle">(n=368)</text>
<text transform="translate(7.3 710.2) scale(0.98 1)" font-size="25.6" text-anchor="middle">J</text>
<text x="87" y="702.4" font-size="11.57" text-anchor="middle">GSE15605</text>
<text x="86.5" y="723.4" font-size="14.62" text-anchor="middle">SOX9/PITX1</text>
<text x="93.7" y="740.2" font-size="11.67" text-anchor="middle">n=27, r=0.41, P&lt;0.05</text>
<line x1="36.4" y1="744.6" x2="36.4" y2="836.3" stroke="#000" stroke-width="1.8"/>
<line x1="35.5" y1="835.4" x2="136.1" y2="835.4" stroke="#000" stroke-width="1.8"/>
<line x1="33.2" y1="835.4" x2="36.4" y2="835.4" stroke="#000" stroke-width="1.2"/>
<text x="29.4" y="839.1" font-size="9.9" text-anchor="end">40</text>
<line x1="33.2" y1="820.27" x2="36.4" y2="820.27" stroke="#000" stroke-width="1.2"/>
<text x="29.4" y="823.97" font-size="9.9" text-anchor="end">50</text>
<line x1="33.2" y1="805.13" x2="36.4" y2="805.13" stroke="#000" stroke-width="1.2"/>
<text x="29.4" y="808.83" font-size="9.9" text-anchor="end">60</text>
<line x1="33.2" y1="790" x2="36.4" y2="790" stroke="#000" stroke-width="1.2"/>
<text x="29.4" y="793.7" font-size="9.9" text-anchor="end">70</text>
<line x1="33.2" y1="774.87" x2="36.4" y2="774.87" stroke="#000" stroke-width="1.2"/>
<text x="29.4" y="778.57" font-size="9.9" text-anchor="end">80</text>
<line x1="33.2" y1="759.73" x2="36.4" y2="759.73" stroke="#000" stroke-width="1.2"/>
<text x="29.4" y="763.43" font-size="9.9" text-anchor="end">90</text>
<line x1="33.2" y1="744.6" x2="36.4" y2="744.6" stroke="#000" stroke-width="1.2"/>
<text x="29.4" y="748.3" font-size="9.9" text-anchor="end">100</text>
<line x1="36.4" y1="835.4" x2="36.4" y2="838.7" stroke="#000" stroke-width="1.2"/>
<text x="36.4" y="849.5" font-size="9.9" text-anchor="middle">20</text>
<line x1="85.95" y1="835.4" x2="85.95" y2="838.7" stroke="#000" stroke-width="1.2"/>
<text x="85.95" y="849.5" font-size="9.9" text-anchor="middle">30</text>
<line x1="135.5" y1="835.4" x2="135.5" y2="838.7" stroke="#000" stroke-width="1.2"/>
<text x="135.5" y="849.5" font-size="9.9" text-anchor="middle">40</text>
<circle cx="70" cy="757.4" r="3.3" fill="#808080"/>
<circle cx="64.3" cy="751.2" r="3.3" fill="#808080"/>
<circle cx="56.8" cy="761.3" r="3.3" fill="#808080"/>
<circle cx="66.1" cy="762.4" r="3.3" fill="#808080"/>
<circle cx="72.4" cy="757.3" r="3.3" fill="#808080"/>
<circle cx="75.9" cy="760.1" r="3.3" fill="#808080"/>
<circle cx="78.3" cy="763.6" r="3.3" fill="#808080"/>
<circle cx="82.2" cy="757.8" r="3.3" fill="#808080"/>
<circle cx="86.4" cy="759.6" r="3.3" fill="#808080"/>
<circle cx="91.1" cy="758.2" r="3.3" fill="#808080"/>
<circle cx="92.3" cy="760.1" r="3.3" fill="#808080"/>
<circle cx="98.1" cy="763.1" r="3.3" fill="#808080"/>
<circle cx="114" cy="758" r="3.3" fill="#808080"/>
<circle cx="54.4" cy="773" r="3.3" fill="#808080"/>
<circle cx="64.3" cy="771.3" r="3.3" fill="#808080"/>
<circle cx="94.2" cy="773" r="3.3" fill="#808080"/>
<circle cx="50.2" cy="779.7" r="3.3" fill="#808080"/>
<circle cx="60" cy="777.2" r="3.3" fill="#808080"/>
<circle cx="65.4" cy="789.5" r="3.3" fill="#808080"/>
<circle cx="73.1" cy="795.3" r="3.3" fill="#808080"/>
<circle cx="61.4" cy="801.1" r="3.3" fill="#808080"/>
<circle cx="63.8" cy="804.6" r="3.3" fill="#808080"/>
<circle cx="76.6" cy="802.2" r="3.3" fill="#808080"/>
<circle cx="49.1" cy="823.3" r="3.3" fill="#808080"/>
<circle cx="54.4" cy="832.6" r="3.3" fill="#808080"/>
<line x1="48.6" y1="786.3" x2="135.5" y2="748.4" stroke="#808080" stroke-width="2.5" stroke-linecap="round" stroke-dasharray="0.1 5.2"/>
<text x="87.5" y="864.7" font-size="9.5" text-anchor="middle">Relative <tspan font-style="italic">PITX1</tspan> expression</text>
<text transform="translate(8 795.5) rotate(-90)" font-size="9.5" text-anchor="middle">Relative <tspan font-style="italic">SOX9</tspan> expression</text>
<text x="100.8" y="820.8" font-size="9.4" text-anchor="middle">y = 1.4233x + 40.196</text>
<text transform="translate(176.7 709.4) scale(0.98 1)" font-size="25.6" text-anchor="middle">K</text>
<text x="249.2" y="691.5" font-size="11.57" text-anchor="middle">TCGA-SKCM</text>
<text x="248.7" y="704.4" font-size="11.57" text-anchor="middle">(primary)</text>
<text x="253.5" y="724.1" font-size="14.62" text-anchor="middle">SOX9/PITX1</text>
<text x="255.5" y="740.9" font-size="11.67" text-anchor="middle">n=103, r= 0.27, P&lt;0.01</text>
<line x1="195.5" y1="738.3" x2="195.5" y2="839.1" stroke="#000" stroke-width="1.8"/>
<line x1="194.6" y1="838.2" x2="310.6" y2="838.2" stroke="#000" stroke-width="1.8"/>
<line x1="192.3" y1="838.2" x2="195.5" y2="838.2" stroke="#000" stroke-width="1.2"/>
<text x="188.7" y="841.9" font-size="9.9" text-anchor="end">2</text>
<line x1="192.3" y1="821.55" x2="195.5" y2="821.55" stroke="#000" stroke-width="1.2"/>
<text x="188.7" y="825.25" font-size="9.9" text-anchor="end">4</text>
<line x1="192.3" y1="804.9" x2="195.5" y2="804.9" stroke="#000" stroke-width="1.2"/>
<text x="188.7" y="808.6" font-size="9.9" text-anchor="end">6</text>
<line x1="192.3" y1="788.25" x2="195.5" y2="788.25" stroke="#000" stroke-width="1.2"/>
<text x="188.7" y="791.95" font-size="9.9" text-anchor="end">8</text>
<line x1="192.3" y1="771.6" x2="195.5" y2="771.6" stroke="#000" stroke-width="1.2"/>
<text x="188.7" y="775.3" font-size="9.9" text-anchor="end">10</text>
<line x1="192.3" y1="754.95" x2="195.5" y2="754.95" stroke="#000" stroke-width="1.2"/>
<text x="188.7" y="758.65" font-size="9.9" text-anchor="end">12</text>
<line x1="192.3" y1="738.3" x2="195.5" y2="738.3" stroke="#000" stroke-width="1.2"/>
<text x="188.7" y="742" font-size="9.9" text-anchor="end">14</text>
<line x1="195.5" y1="838.2" x2="195.5" y2="841.5" stroke="#000" stroke-width="1.2"/>
<text x="195.5" y="852.7" font-size="9.9" text-anchor="middle">0</text>
<line x1="233.67" y1="838.2" x2="233.67" y2="841.5" stroke="#000" stroke-width="1.2"/>
<text x="233.67" y="852.7" font-size="9.9" text-anchor="middle">5</text>
<line x1="271.83" y1="838.2" x2="271.83" y2="841.5" stroke="#000" stroke-width="1.2"/>
<text x="271.83" y="852.7" font-size="9.9" text-anchor="middle">10</text>
<line x1="310" y1="838.2" x2="310" y2="841.5" stroke="#000" stroke-width="1.2"/>
<text x="310" y="852.7" font-size="9.9" text-anchor="middle">15</text>
<circle cx="241.2" cy="779.6" r="3.3" fill="#808080"/>
<circle cx="244.1" cy="782.4" r="3.3" fill="#808080"/>
<circle cx="246.9" cy="775.8" r="3.3" fill="#808080"/>
<circle cx="248.8" cy="771.1" r="3.3" fill="#808080"/>
<circle cx="250.7" cy="769.2" r="3.3" fill="#808080"/>
<circle cx="252.6" cy="766.3" r="3.3" fill="#808080"/>
<circle cx="237.4" cy="786.2" r="3.3" fill="#808080"/>
<circle cx="234.6" cy="783.4" r="3.3" fill="#808080"/>
<circle cx="230.8" cy="791.9" r="3.3" fill="#808080"/>
<circle cx="228" cy="798.6" r="3.3" fill="#808080"/>
<circle cx="225.1" cy="801.4" r="3.3" fill="#808080"/>
<circle cx="232.7" cy="799.5" r="3.3" fill="#808080"/>
<circle cx="208" cy="790" r="3.3" fill="#808080"/>
<circle cx="209" cy="793.8" r="3.3" fill="#808080"/>
<circle cx="206.1" cy="799.5" r="3.3" fill="#808080"/>
<circle cx="210.9" cy="797.6" r="3.3" fill="#808080"/>
<circle cx="204.2" cy="802.4" r="3.3" fill="#808080"/>
<circle cx="246" cy="790" r="3.3" fill="#808080"/>
<circle cx="247.9" cy="799.5" r="3.3" fill="#808080"/>
<circle cx="198.5" cy="759.7" r="3.3" fill="#808080"/>
<circle cx="195.7" cy="757.8" r="3.3" fill="#808080"/>
<circle cx="201.4" cy="770.1" r="3.3" fill="#808080"/>
<circle cx="206.1" cy="772" r="3.3" fill="#808080"/>
<circle cx="196.6" cy="781" r="3.3" fill="#808080"/>
<circle cx="196.6" cy="785.5" r="3.3" fill="#808080"/>
<circle cx="196.6" cy="790" r="3.3" fill="#808080"/>
<circle cx="196.6" cy="794.5" r="3.3" fill="#808080"/>
<circle cx="196.6" cy="799" r="3.3" fill="#808080"/>
<circle cx="196.6" cy="803.5" r="3.3" fill="#808080"/>
<circle cx="196.6" cy="808" r="3.3" fill="#808080"/>
<circle cx="196.6" cy="812.5" r="3.3" fill="#808080"/>
<circle cx="196.6" cy="817" r="3.3" fill="#808080"/>
<circle cx="207.43" cy="746.78" r="3.3" fill="#808080"/>
<circle cx="197.38" cy="757.76" r="3.3" fill="#808080"/>
<circle cx="200.89" cy="757.29" r="3.3" fill="#808080"/>
<circle cx="209.77" cy="760.09" r="3.3" fill="#808080"/>
<circle cx="214.44" cy="757.76" r="3.3" fill="#808080"/>
<circle cx="220.28" cy="759.63" r="3.3" fill="#808080"/>
<circle cx="235.23" cy="757.76" r="3.3" fill="#808080"/>
<circle cx="238.27" cy="755.42" r="3.3" fill="#808080"/>
<circle cx="247.62" cy="753.08" r="3.3" fill="#808080"/>
<circle cx="252.29" cy="754.95" r="3.3" fill="#808080"/>
<circle cx="259.3" cy="760.09" r="3.3" fill="#808080"/>
<circle cx="265.14" cy="757.29" r="3.3" fill="#808080"/>
<circle cx="235.93" cy="764.77" r="3.3" fill="#808080"/>
<circle cx="216.78" cy="765.93" r="3.3" fill="#808080"/>
<circle cx="212.1" cy="768.27" r="3.3" fill="#808080"/>
<circle cx="207.9" cy="771.78" r="3.3" fill="#808080"/>
<circle cx="200.89" cy="768.27" r="3.3" fill="#808080"/>
<circle cx="204.39" cy="770.61" r="3.3" fill="#808080"/>
<circle cx="251.12" cy="763.6" r="3.3" fill="#808080"/>
<circle cx="253.46" cy="766.64" r="3.3" fill="#808080"/>
<circle cx="260" cy="761.26" r="3.3" fill="#808080"/>
<circle cx="271.68" cy="766.64" r="3.3" fill="#808080"/>
<circle cx="275.65" cy="771.78" r="3.3" fill="#808080"/>
<circle cx="232.43" cy="775.28" r="3.3" fill="#808080"/>
<circle cx="240.61" cy="771.78" r="3.3" fill="#808080"/>
<circle cx="249.49" cy="770.61" r="3.3" fill="#808080"/>
<circle cx="252.29" cy="772.94" r="3.3" fill="#808080"/>
<circle cx="256.96" cy="770.61" r="3.3" fill="#808080"/>
<circle cx="241.78" cy="778.79" r="3.3" fill="#808080"/>
<circle cx="248.79" cy="776.45" r="3.3" fill="#808080"/>
<circle cx="255.79" cy="777.62" r="3.3" fill="#808080"/>
<circle cx="261.64" cy="777.62" r="3.3" fill="#808080"/>
<circle cx="286.17" cy="781.12" r="3.3" fill="#808080"/>
<circle cx="199.72" cy="778.79" r="3.3" fill="#808080"/>
<circle cx="196.92" cy="783.46" r="3.3" fill="#808080"/>
<circle cx="202.06" cy="785.79" r="3.3" fill="#808080"/>
<circle cx="209.07" cy="784.63" r="3.3" fill="#808080"/>
<circle cx="216.07" cy="783.46" r="3.3" fill="#808080"/>
<circle cx="227.76" cy="785.79" r="3.3" fill="#808080"/>
<circle cx="233.6" cy="784.63" r="3.3" fill="#808080"/>
<circle cx="240.61" cy="784.63" r="3.3" fill="#808080"/>
<circle cx="246.45" cy="783.46" r="3.3" fill="#808080"/>
<circle cx="252.29" cy="782.29" r="3.3" fill="#808080"/>
<circle cx="278.46" cy="786.96" r="3.3" fill="#808080"/>
<circle cx="197.38" cy="791.64" r="3.3" fill="#808080"/>
<circle cx="203.22" cy="792.8" r="3.3" fill="#808080"/>
<circle cx="210.23" cy="791.64" r="3.3" fill="#808080"/>
<circle cx="223.08" cy="790.93" r="3.3" fill="#808080"/>
<circle cx="230.09" cy="789.3" r="3.3" fill="#808080"/>
<circle cx="237.1" cy="790.47" r="3.3" fill="#808080"/>
<circle cx="242.94" cy="789.3" r="3.3" fill="#808080"/>
<circle cx="259.3" cy="790" r="3.3" fill="#808080"/>
<circle cx="248.79" cy="795.14" r="3.3" fill="#808080"/>
<circle cx="209.07" cy="796.31" r="3.3" fill="#808080"/>
<circle cx="196.21" cy="797.48" r="3.3" fill="#808080"/>
<circle cx="227.76" cy="797.48" r="3.3" fill="#808080"/>
<circle cx="286.17" cy="780.98" r="3.3" fill="#808080"/>
<circle cx="278.46" cy="787.06" r="3.3" fill="#808080"/>
<circle cx="259.3" cy="789.39" r="3.3" fill="#808080"/>
<circle cx="216.07" cy="783.32" r="3.3" fill="#808080"/>
<circle cx="199.72" cy="778.88" r="3.3" fill="#808080"/>
<circle cx="196.21" cy="783.32" r="3.3" fill="#808080"/>
<circle cx="202.06" cy="785.89" r="3.3" fill="#808080"/>
<circle cx="209.07" cy="785.19" r="3.3" fill="#808080"/>
<circle cx="227.76" cy="785.89" r="3.3" fill="#808080"/>
<circle cx="233.6" cy="784.49" r="3.3" fill="#808080"/>
<circle cx="240.61" cy="784.49" r="3.3" fill="#808080"/>
<circle cx="247.62" cy="782.85" r="3.3" fill="#808080"/>
<circle cx="252.29" cy="781.68" r="3.3" fill="#808080"/>
<circle cx="261.64" cy="777.48" r="3.3" fill="#808080"/>
<circle cx="255.79" cy="778.18" r="3.3" fill="#808080"/>
<circle cx="195.51" cy="792.2" r="3.3" fill="#808080"/>
<circle cx="196.21" cy="799.21" r="3.3" fill="#808080"/>
<circle cx="196.21" cy="805.05" r="3.3" fill="#808080"/>
<circle cx="196.21" cy="810.89" r="3.3" fill="#808080"/>
<circle cx="195.51" cy="815.56" r="3.3" fill="#808080"/>
<circle cx="200.89" cy="807.38" r="3.3" fill="#808080"/>
<circle cx="205.56" cy="811.59" r="3.3" fill="#808080"/>
<circle cx="213.27" cy="808.55" r="3.3" fill="#808080"/>
<circle cx="210.23" cy="798.04" r="3.3" fill="#808080"/>
<circle cx="206.73" cy="800.37" r="3.3" fill="#808080"/>
<circle cx="212.57" cy="798.04" r="3.3" fill="#808080"/>
<circle cx="223.08" cy="791.03" r="3.3" fill="#808080"/>
<circle cx="232.43" cy="793.36" r="3.3" fill="#808080"/>
<circle cx="227.76" cy="799.21" r="3.3" fill="#808080"/>
<circle cx="234.77" cy="799.21" r="3.3" fill="#808080"/>
<circle cx="226.59" cy="802.71" r="3.3" fill="#808080"/>
<circle cx="241.78" cy="793.36" r="3.3" fill="#808080"/>
<circle cx="244.11" cy="795.7" r="3.3" fill="#808080"/>
<circle cx="247.62" cy="800.37" r="3.3" fill="#808080"/>
<circle cx="248.79" cy="805.51" r="3.3" fill="#808080"/>
<circle cx="241.78" cy="787.52" r="3.3" fill="#808080"/>
<circle cx="210.23" cy="819.77" r="3.3" fill="#808080"/>
<circle cx="214.44" cy="818.36" r="3.3" fill="#808080"/>
<circle cx="221.92" cy="826.54" r="3.3" fill="#808080"/>
<circle cx="230.79" cy="822.57" r="3.3" fill="#808080"/>
<circle cx="195.75" cy="835.89" r="3.3" fill="#808080"/>
<circle cx="209.07" cy="791.03" r="3.3" fill="#808080"/>
<circle cx="206.73" cy="793.36" r="3.3" fill="#808080"/>
<line x1="195.5" y1="789.6" x2="287" y2="770.1" stroke="#808080" stroke-width="2.5" stroke-linecap="round" stroke-dasharray="0.1 5.2"/>
<text x="255.2" y="863.8" font-size="9.5" text-anchor="middle">Relative <tspan font-style="italic">PITX1</tspan> expression</text>
<text transform="translate(173.4 792.1) rotate(-90)" font-size="9.5" text-anchor="middle">Relative <tspan font-style="italic">SOX9</tspan> expression</text>
<text x="281.5" y="821.5" font-size="9.4" text-anchor="middle">y = 0.1954x + 7.7853</text>
<text transform="translate(348.7 708.2) scale(0.98 1)" font-size="25.6" text-anchor="middle">L</text>
<text x="436" y="702.4" font-size="11.57" text-anchor="middle">GSE15605</text>
<text x="434.7" y="723.9" font-size="14.62" text-anchor="middle">SOX10/SOX9</text>
<text x="439" y="744" font-size="11.67" text-anchor="middle">n=27, r= -0.56, P&lt;0.01</text>
<line x1="380.6" y1="741.3" x2="380.6" y2="836.7" stroke="#000" stroke-width="1.8"/>
<line x1="379.7" y1="835.8" x2="478.1" y2="835.8" stroke="#000" stroke-width="1.8"/>
<line x1="377.4" y1="835.8" x2="380.6" y2="835.8" stroke="#000" stroke-width="1.2"/>
<text x="373.8" y="839.5" font-size="9.9" text-anchor="end">50</text>
<line x1="377.4" y1="820.05" x2="380.6" y2="820.05" stroke="#000" stroke-width="1.2"/>
<text x="373.8" y="823.75" font-size="9.9" text-anchor="end">60</text>
<line x1="377.4" y1="804.3" x2="380.6" y2="804.3" stroke="#000" stroke-width="1.2"/>
<text x="373.8" y="808" font-size="9.9" text-anchor="end">70</text>
<line x1="377.4" y1="788.55" x2="380.6" y2="788.55" stroke="#000" stroke-width="1.2"/>
<text x="373.8" y="792.25" font-size="9.9" text-anchor="end">80</text>
<line x1="377.4" y1="772.8" x2="380.6" y2="772.8" stroke="#000" stroke-width="1.2"/>
<text x="373.8" y="776.5" font-size="9.9" text-anchor="end">90</text>
<line x1="377.4" y1="757.05" x2="380.6" y2="757.05" stroke="#000" stroke-width="1.2"/>
<text x="373.8" y="760.75" font-size="9.9" text-anchor="end">100</text>
<line x1="377.4" y1="741.3" x2="380.6" y2="741.3" stroke="#000" stroke-width="1.2"/>
<text x="373.8" y="745" font-size="9.9" text-anchor="end">110</text>
<line x1="380.6" y1="835.8" x2="380.6" y2="839.1" stroke="#000" stroke-width="1.2"/>
<text x="380.6" y="849.5" font-size="9.9" text-anchor="middle">30</text>
<line x1="394.44" y1="835.8" x2="394.44" y2="839.1" stroke="#000" stroke-width="1.2"/>
<text x="394.44" y="849.5" font-size="9.9" text-anchor="middle">40</text>
<line x1="408.29" y1="835.8" x2="408.29" y2="839.1" stroke="#000" stroke-width="1.2"/>
<text x="408.29" y="849.5" font-size="9.9" text-anchor="middle">50</text>
<line x1="422.13" y1="835.8" x2="422.13" y2="839.1" stroke="#000" stroke-width="1.2"/>
<text x="422.13" y="849.5" font-size="9.9" text-anchor="middle">60</text>
<line x1="435.97" y1="835.8" x2="435.97" y2="839.1" stroke="#000" stroke-width="1.2"/>
<text x="435.97" y="849.5" font-size="9.9" text-anchor="middle">70</text>
<line x1="449.81" y1="835.8" x2="449.81" y2="839.1" stroke="#000" stroke-width="1.2"/>
<text x="449.81" y="849.5" font-size="9.9" text-anchor="middle">80</text>
<line x1="463.66" y1="835.8" x2="463.66" y2="839.1" stroke="#000" stroke-width="1.2"/>
<text x="463.66" y="849.5" font-size="9.9" text-anchor="middle">90</text>
<line x1="477.5" y1="835.8" x2="477.5" y2="839.1" stroke="#000" stroke-width="1.2"/>
<text x="477.5" y="849.5" font-size="9.9" text-anchor="middle">100</text>
<circle cx="396.92" cy="779.35" r="3.3" fill="#808080"/>
<circle cx="405.09" cy="774.21" r="3.3" fill="#808080"/>
<circle cx="422.15" cy="780.51" r="3.3" fill="#808080"/>
<circle cx="424.95" cy="776.54" r="3.3" fill="#808080"/>
<circle cx="425.65" cy="773.04" r="3.3" fill="#808080"/>
<circle cx="430.79" cy="780.05" r="3.3" fill="#808080"/>
<circle cx="436.17" cy="776.31" r="3.3" fill="#808080"/>
<circle cx="444.81" cy="780.51" r="3.3" fill="#808080"/>
<circle cx="447.85" cy="784.02" r="3.3" fill="#808080"/>
<circle cx="451.12" cy="775.14" r="3.3" fill="#808080"/>
<circle cx="453.46" cy="771.87" r="3.3" fill="#808080"/>
<circle cx="461.17" cy="775.14" r="3.3" fill="#808080"/>
<circle cx="462.34" cy="779.35" r="3.3" fill="#808080"/>
<circle cx="461.17" cy="787.06" r="3.3" fill="#808080"/>
<circle cx="465.84" cy="792.2" r="3.3" fill="#808080"/>
<circle cx="463.04" cy="794.07" r="3.3" fill="#808080"/>
<circle cx="465.37" cy="797.57" r="3.3" fill="#808080"/>
<circle cx="461.17" cy="800.84" r="3.3" fill="#808080"/>
<circle cx="457.2" cy="806.68" r="3.3" fill="#808080"/>
<circle cx="461.17" cy="807.38" r="3.3" fill="#808080"/>
<circle cx="466.31" cy="807.85" r="3.3" fill="#808080"/>
<circle cx="465.37" cy="811.59" r="3.3" fill="#808080"/>
<circle cx="461.87" cy="817.9" r="3.3" fill="#808080"/>
<circle cx="451.12" cy="826.07" r="3.3" fill="#808080"/>
<circle cx="463.04" cy="825.61" r="3.3" fill="#808080"/>
<circle cx="463.04" cy="828.88" r="3.3" fill="#808080"/>
<line x1="395.8" y1="759.6" x2="460.9" y2="802.6" stroke="#808080" stroke-width="2.5" stroke-linecap="round" stroke-dasharray="0.1 5.2"/>
<text x="433.4" y="867.1" font-size="9.5" text-anchor="middle">Relative <tspan font-style="italic">SOX9</tspan> expression</text>
<text transform="translate(351.7 791.1) rotate(-90)" font-size="9.5" text-anchor="middle">Relative <tspan font-style="italic">SOX10</tspan> expression</text>
<text x="446.6" y="763.7" font-size="9.4" text-anchor="middle">y = -0.5824x + 122.01</text>
<text transform="translate(525.9 707.3) scale(0.98 1)" font-size="25.6" text-anchor="middle">M</text>
<text x="605.6" y="690.7" font-size="11.57" text-anchor="middle">TCGA-SKCM</text>
<text x="605" y="704" font-size="11.57" text-anchor="middle">(primary)</text>
<text x="606.4" y="724.8" font-size="14.62" text-anchor="middle">SOX10/SOX9</text>
<text x="612.9" y="745" font-size="11.67" text-anchor="middle">n=103, r= -0.21, P&lt;0.05</text>
<line x1="548.4" y1="746.5" x2="548.4" y2="839.1" stroke="#000" stroke-width="1.8"/>
<line x1="547.5" y1="838.2" x2="670" y2="838.2" stroke="#000" stroke-width="1.8"/>
<line x1="545.2" y1="838.2" x2="548.4" y2="838.2" stroke="#000" stroke-width="1.2"/>
<text x="542" y="841.9" font-size="9.9" text-anchor="end">11</text>
<line x1="545.2" y1="822.92" x2="548.4" y2="822.92" stroke="#000" stroke-width="1.2"/>
<text x="542" y="826.62" font-size="9.9" text-anchor="end">12</text>
<line x1="545.2" y1="807.63" x2="548.4" y2="807.63" stroke="#000" stroke-width="1.2"/>
<text x="542" y="811.33" font-size="9.9" text-anchor="end">13</text>
<line x1="545.2" y1="792.35" x2="548.4" y2="792.35" stroke="#000" stroke-width="1.2"/>
<text x="542" y="796.05" font-size="9.9" text-anchor="end">14</text>
<line x1="545.2" y1="777.07" x2="548.4" y2="777.07" stroke="#000" stroke-width="1.2"/>
<text x="542" y="780.77" font-size="9.9" text-anchor="end">15</text>
<line x1="545.2" y1="761.78" x2="548.4" y2="761.78" stroke="#000" stroke-width="1.2"/>
<text x="542" y="765.48" font-size="9.9" text-anchor="end">16</text>
<line x1="545.2" y1="746.5" x2="548.4" y2="746.5" stroke="#000" stroke-width="1.2"/>
<text x="542" y="750.2" font-size="9.9" text-anchor="end">17</text>
<line x1="548.4" y1="838.2" x2="548.4" y2="841.5" stroke="#000" stroke-width="1.2"/>
<text x="548.4" y="852.3" font-size="9.9" text-anchor="middle">0</text>
<line x1="588.73" y1="838.2" x2="588.73" y2="841.5" stroke="#000" stroke-width="1.2"/>
<text x="588.73" y="852.3" font-size="9.9" text-anchor="middle">5</text>
<line x1="629.07" y1="838.2" x2="629.07" y2="841.5" stroke="#000" stroke-width="1.2"/>
<text x="629.07" y="852.3" font-size="9.9" text-anchor="middle">10</text>
<line x1="669.4" y1="838.2" x2="669.4" y2="841.5" stroke="#000" stroke-width="1.2"/>
<text x="669.4" y="852.3" font-size="9.9" text-anchor="middle">15</text>
<circle cx="567.52" cy="773.5" r="3.3" fill="#808080"/>
<circle cx="584.58" cy="778.88" r="3.3" fill="#808080"/>
<circle cx="593.93" cy="777.48" r="3.3" fill="#808080"/>
<circle cx="606.78" cy="772.8" r="3.3" fill="#808080"/>
<circle cx="616.12" cy="771.17" r="3.3" fill="#808080"/>
<circle cx="625" cy="776.31" r="3.3" fill="#808080"/>
<circle cx="643.46" cy="779.81" r="3.3" fill="#808080"/>
<circle cx="599.77" cy="780.51" r="3.3" fill="#808080"/>
<circle cx="592.76" cy="785.89" r="3.3" fill="#808080"/>
<circle cx="583.41" cy="788.22" r="3.3" fill="#808080"/>
<circle cx="575.93" cy="800.84" r="3.3" fill="#808080"/>
<circle cx="580.37" cy="802.71" r="3.3" fill="#808080"/>
<circle cx="630.84" cy="814.39" r="3.3" fill="#808080"/>
<circle cx="614.25" cy="826.07" r="3.3" fill="#808080"/>
<circle cx="644.16" cy="808.55" r="3.3" fill="#808080"/>
<circle cx="646.5" cy="792.2" r="3.3" fill="#808080"/>
<circle cx="645.33" cy="799.21" r="3.3" fill="#808080"/>
<circle cx="640.65" cy="807.38" r="3.3" fill="#808080"/>
<circle cx="644.16" cy="786.36" r="3.3" fill="#808080"/>
<circle cx="632.48" cy="807.38" r="3.3" fill="#808080"/>
<circle cx="595.09" cy="800.37" r="3.3" fill="#808080"/>
<circle cx="603.27" cy="803.88" r="3.3" fill="#808080"/>
<circle cx="614.95" cy="806.21" r="3.3" fill="#808080"/>
<circle cx="620.79" cy="802.71" r="3.3" fill="#808080"/>
<circle cx="627.8" cy="786.36" r="3.3" fill="#808080"/>
<circle cx="632.01" cy="762.9" r="3.3" fill="#808080"/>
<circle cx="599.4" cy="780.7" r="3.3" fill="#808080"/>
<circle cx="614.7" cy="783.9" r="3.3" fill="#808080"/>
<circle cx="628.6" cy="782.8" r="3.3" fill="#808080"/>
<circle cx="643.2" cy="779.9" r="3.3" fill="#808080"/>
<circle cx="591.8" cy="785.8" r="3.3" fill="#808080"/>
<circle cx="583.4" cy="788.7" r="3.3" fill="#808080"/>
<circle cx="586.3" cy="788.7" r="3.3" fill="#808080"/>
<circle cx="602.3" cy="785" r="3.3" fill="#808080"/>
<circle cx="614" cy="787.2" r="3.3" fill="#808080"/>
<circle cx="624.2" cy="786.5" r="3.3" fill="#808080"/>
<circle cx="635.9" cy="788.7" r="3.3" fill="#808080"/>
<circle cx="643.2" cy="785.8" r="3.3" fill="#808080"/>
<circle cx="591.4" cy="792.3" r="3.3" fill="#808080"/>
<circle cx="603.8" cy="791.6" r="3.3" fill="#808080"/>
<circle cx="609.6" cy="792.3" r="3.3" fill="#808080"/>
<circle cx="615.5" cy="793.1" r="3.3" fill="#808080"/>
<circle cx="621.3" cy="791.6" r="3.3" fill="#808080"/>
<circle cx="627.2" cy="792.3" r="3.3" fill="#808080"/>
<circle cx="633" cy="793.1" r="3.3" fill="#808080"/>
<circle cx="639.6" cy="793.8" r="3.3" fill="#808080"/>
<circle cx="646.9" cy="792.3" r="3.3" fill="#808080"/>
<circle cx="589.9" cy="797.4" r="3.3" fill="#808080"/>
<circle cx="595" cy="798.9" r="3.3" fill="#808080"/>
<circle cx="602.3" cy="798.2" r="3.3" fill="#808080"/>
<circle cx="608.2" cy="798.9" r="3.3" fill="#808080"/>
<circle cx="614" cy="799.6" r="3.3" fill="#808080"/>
<circle cx="619.9" cy="798.2" r="3.3" fill="#808080"/>
<circle cx="625.7" cy="798.9" r="3.3" fill="#808080"/>
<circle cx="631.5" cy="799.6" r="3.3" fill="#808080"/>
<circle cx="646.1" cy="799.6" r="3.3" fill="#808080"/>
<circle cx="602.3" cy="804" r="3.3" fill="#808080"/>
<circle cx="614.7" cy="806.2" r="3.3" fill="#808080"/>
<circle cx="618.4" cy="804" r="3.3" fill="#808080"/>
<circle cx="629.3" cy="804" r="3.3" fill="#808080"/>
<circle cx="635.9" cy="802.6" r="3.3" fill="#808080"/>
<circle cx="639.6" cy="808.4" r="3.3" fill="#808080"/>
<circle cx="644.7" cy="809.1" r="3.3" fill="#808080"/>
<circle cx="646.1" cy="804.7" r="3.3" fill="#808080"/>
<circle cx="641.8" cy="804" r="3.3" fill="#808080"/>
<circle cx="631.5" cy="805.5" r="3.3" fill="#808080"/>
<circle cx="606.7" cy="795.3" r="3.3" fill="#808080"/>
<circle cx="611.8" cy="796" r="3.3" fill="#808080"/>
<circle cx="617.7" cy="795.3" r="3.3" fill="#808080"/>
<circle cx="622.8" cy="796" r="3.3" fill="#808080"/>
<circle cx="628.6" cy="796" r="3.3" fill="#808080"/>
<circle cx="634.5" cy="796.7" r="3.3" fill="#808080"/>
<circle cx="600.1" cy="788.7" r="3.3" fill="#808080"/>
<circle cx="608.2" cy="788" r="3.3" fill="#808080"/>
<circle cx="618.4" cy="789.4" r="3.3" fill="#808080"/>
<circle cx="630.1" cy="789.4" r="3.3" fill="#808080"/>
<circle cx="638.8" cy="790.9" r="3.3" fill="#808080"/>
<circle cx="605.3" cy="801.8" r="3.3" fill="#808080"/>
<circle cx="610.4" cy="802.6" r="3.3" fill="#808080"/>
<circle cx="622.8" cy="801.8" r="3.3" fill="#808080"/>
<circle cx="626.4" cy="803.3" r="3.3" fill="#808080"/>
<circle cx="594.3" cy="789.4" r="3.3" fill="#808080"/>
<circle cx="642.5" cy="789.4" r="3.3" fill="#808080"/>
<circle cx="643.9" cy="796" r="3.3" fill="#808080"/>
<circle cx="633.7" cy="786.5" r="3.3" fill="#808080"/>
<circle cx="625" cy="793.8" r="3.3" fill="#808080"/>
<circle cx="612.6" cy="790.1" r="3.3" fill="#808080"/>
<circle cx="606" cy="793.8" r="3.3" fill="#808080"/>
<circle cx="616.2" cy="797.4" r="3.3" fill="#808080"/>
<circle cx="620.6" cy="801.1" r="3.3" fill="#808080"/>
<circle cx="627.9" cy="800.4" r="3.3" fill="#808080"/>
<circle cx="638.1" cy="804.7" r="3.3" fill="#808080"/>
<circle cx="603.8" cy="800.4" r="3.3" fill="#808080"/>
<circle cx="592.8" cy="795.3" r="3.3" fill="#808080"/>
<line x1="566.2" y1="788.2" x2="645.2" y2="797.4" stroke="#808080" stroke-width="2.5" stroke-linecap="round" stroke-dasharray="0.1 5.2"/>
<text x="615.9" y="867.1" font-size="9.5" text-anchor="middle">Relative <tspan font-style="italic">SOX9</tspan> expression</text>
<text transform="translate(524.9 796.2) rotate(-90)" font-size="9.5" text-anchor="middle">Relative <tspan font-style="italic">SOX10</tspan> expression</text>
<text x="603.5" y="834.9" font-size="9.4" text-anchor="middle">y = -0.059x + 14.343</text>
</svg>
</body></html>
